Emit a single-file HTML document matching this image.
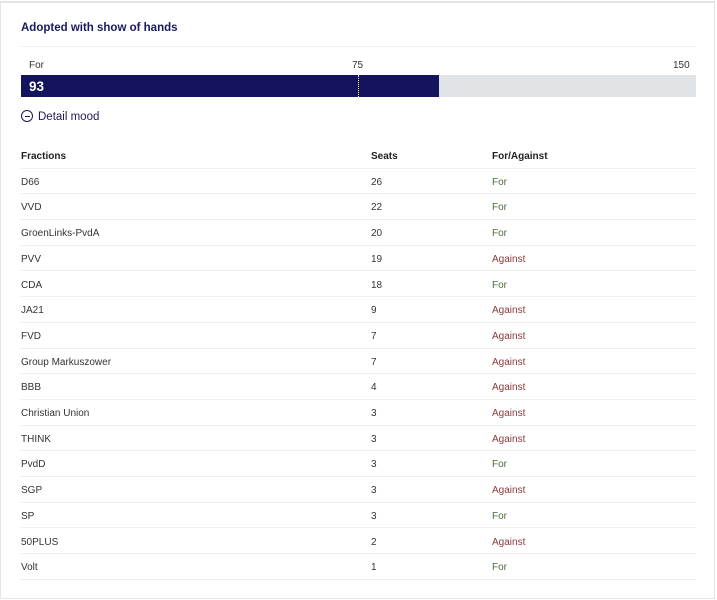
<!DOCTYPE html>
<html><head><style>
body{margin:0;width:717px;height:600px;background:#fff;font-family:"Liberation Sans",sans-serif;position:relative;overflow:hidden}
.card{position:absolute;left:0;top:1px;width:715px;height:598px;border:1px solid #e2e5e8;border-top:2px solid #e2e5e8;box-sizing:border-box}
.t{position:absolute;left:21px;top:22px;font-size:11.5px;font-weight:bold;color:#1a1a5e}
.hl{position:absolute;left:21px;width:675px;height:1px;background:#eef0f2}
.lab{position:absolute;top:60px;font-size:10px;color:#333}
.bar{position:absolute;left:21px;top:75px;width:675px;height:22px;background:#e1e4e7}
.fill{position:absolute;left:0;top:0;width:418px;height:22px;background:#13135e}
.n{position:absolute;left:8px;top:4px;color:#fff;font-size:13.5px;font-weight:bold}
.mk{position:absolute;left:337px;top:0;height:22px;border-left:1px dotted #fff}
.dm{position:absolute;left:21px;top:110px;font-size:11.5px;color:#1a1a5e}
.dm span{display:inline-block;width:10px;height:10px;border:1.2px solid #1a1a5e;border-radius:50%;vertical-align:-2px;margin-right:5px;position:relative}
.dm span:after{content:"";position:absolute;left:2.5px;top:4.5px;width:5px;height:1px;background:#1a1a5e}
.r{position:absolute;left:21px;width:675px;height:25.7px;font-size:10px;color:#333;border-bottom:1px solid #eceef0;box-sizing:border-box}
.r div{position:absolute;top:8px}
.c2{left:350px}.c3{left:471px}
.h{font-weight:bold;color:#222}
.f{color:#4b6b3a}.a{color:#8b3a3a}
</style></head><body>
<div class="card"></div>
<div class="t">Adopted with show of hands</div>
<div class="hl" style="top:46px"></div>
<div class="lab" style="left:29px">For</div>
<div class="lab" style="left:352px">75</div>
<div class="lab" style="left:673px">150</div>
<div class="bar"><div class="fill"><div class="n">93</div></div><div class="mk"></div></div>
<div class="dm"><span></span>Detail mood</div>
<div class="r h" style="top:143px"><div>Fractions</div><div class="c2">Seats</div><div class="c3">For/Against</div></div>
<div class="r" style="top:168.7px"><div>D66</div><div class="c2">26</div><div class="c3 f">For</div></div>
<div class="r" style="top:194.4px"><div>VVD</div><div class="c2">22</div><div class="c3 f">For</div></div>
<div class="r" style="top:220.1px"><div>GroenLinks-PvdA</div><div class="c2">20</div><div class="c3 f">For</div></div>
<div class="r" style="top:245.8px"><div>PVV</div><div class="c2">19</div><div class="c3 a">Against</div></div>
<div class="r" style="top:271.5px"><div>CDA</div><div class="c2">18</div><div class="c3 f">For</div></div>
<div class="r" style="top:297.2px"><div>JA21</div><div class="c2">9</div><div class="c3 a">Against</div></div>
<div class="r" style="top:322.9px"><div>FVD</div><div class="c2">7</div><div class="c3 a">Against</div></div>
<div class="r" style="top:348.6px"><div>Group Markuszower</div><div class="c2">7</div><div class="c3 a">Against</div></div>
<div class="r" style="top:374.3px"><div>BBB</div><div class="c2">4</div><div class="c3 a">Against</div></div>
<div class="r" style="top:400px"><div>Christian Union</div><div class="c2">3</div><div class="c3 a">Against</div></div>
<div class="r" style="top:425.7px"><div>THINK</div><div class="c2">3</div><div class="c3 a">Against</div></div>
<div class="r" style="top:451.4px"><div>PvdD</div><div class="c2">3</div><div class="c3 f">For</div></div>
<div class="r" style="top:477.1px"><div>SGP</div><div class="c2">3</div><div class="c3 a">Against</div></div>
<div class="r" style="top:502.8px"><div>SP</div><div class="c2">3</div><div class="c3 f">For</div></div>
<div class="r" style="top:528.5px"><div>50PLUS</div><div class="c2">2</div><div class="c3 a">Against</div></div>
<div class="r" style="top:554.2px"><div>Volt</div><div class="c2">1</div><div class="c3 f">For</div></div>
</body></html>
